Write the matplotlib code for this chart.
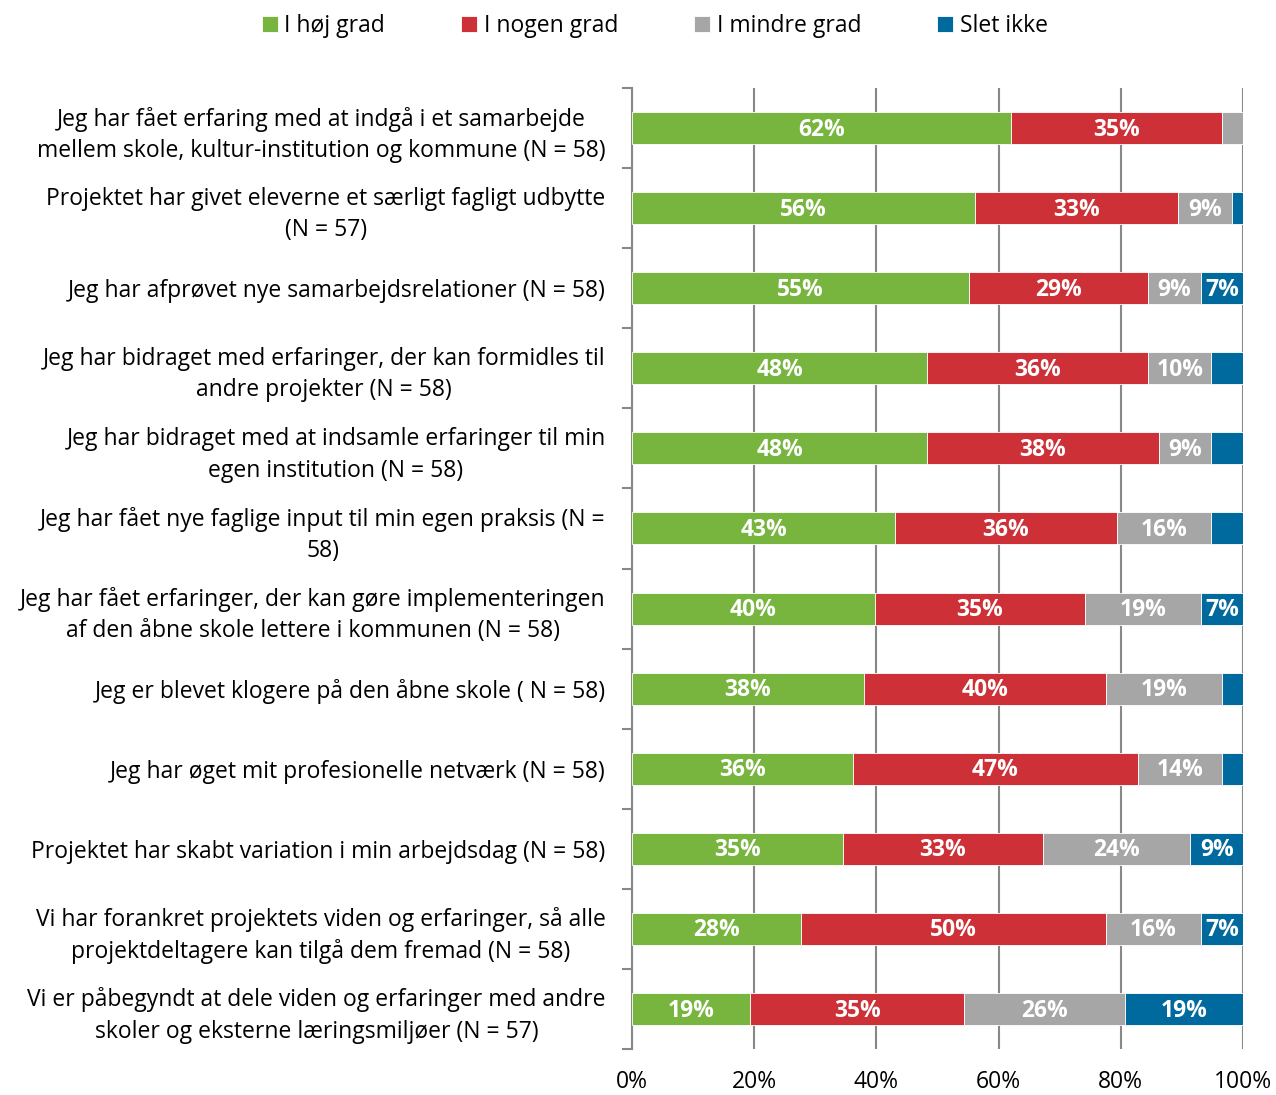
import matplotlib
matplotlib.use("Agg")
import matplotlib.pyplot as plt
import numpy as np
import math

categories = [
    "Jeg har fået erfaring med at indgå i et samarbejde\nmellem skole, kultur-institution og kommune (N = 58)",
    "Projektet har givet eleverne et særligt fagligt udbytte\n(N = 57)",
    "Jeg har afprøvet nye samarbejdsrelationer (N = 58)",
    "Jeg har bidraget med erfaringer, der kan formidles til\nandre projekter (N = 58)",
    "Jeg har bidraget med at indsamle erfaringer til min\negen institution (N = 58)",
    "Jeg har fået nye faglige input til min egen praksis (N =\n58)",
    "Jeg har fået erfaringer, der kan gøre implementeringen\naf den åbne skole lettere i kommunen (N = 58)",
    "Jeg er blevet klogere på den åbne skole ( N = 58)",
    "Jeg har øget mit profesionelle netværk (N = 58)",
    "Projektet har skabt variation i min arbejdsdag (N = 58)",
    "Vi har forankret projektets viden og erfaringer, så alle\nprojektdeltagere kan tilgå dem fremad (N = 58)",
    "Vi er påbegyndt at dele viden og erfaringer med andre\nskoler og eksterne læringsmiljøer (N = 57)",
]
series_names = ["I høj grad", "I nogen grad", "I mindre grad", "Slet ikke"]
hoej = [62.1, 56.1, 55.2, 48.3, 48.3, 43.1, 39.7, 37.9, 36.2, 34.5, 27.6, 19.3]
nogen = [34.5, 33.3, 29.3, 36.2, 37.9, 36.2, 34.5, 39.7, 46.6, 32.8, 50.0, 35.1]
mindre = [3.4, 8.8, 8.6, 10.3, 8.6, 15.5, 19.0, 19.0, 13.8, 24.1, 15.5, 26.3]
slet = [0.0, 1.8, 6.9, 5.2, 5.2, 5.2, 6.9, 3.4, 3.4, 8.6, 6.9, 19.3]
xtick_labels = ["0%", "20%", "40%", "60%", "80%", "100%"]

colors = ["#77B53F", "#CD3036", "#A6A6A6", "#006A9E"]

plt.rcParams["font.family"] = ["Open Sans", "DejaVu Sans"]

fig = plt.figure(figsize=(12.76, 10.95), dpi=100)
ax = fig.add_axes([632/1276, 1 - 1049/1095, (1243-632)/1276, (1049-88)/1095])

y = np.arange(len(categories))
left = np.zeros(len(categories))
for name, vals, col in zip(series_names, [hoej, nogen, mindre, slet], colors):
    vals = np.array(vals)
    ax.barh(y, vals, left=left, height=0.4, color=col, label=name,
            edgecolor="white", linewidth=0.6, zorder=3)
    for yi, l, v in zip(y, left, vals):
        if v >= 6:
            ax.text(l + v/2, yi + 0.02, f"{math.floor(v + 0.5)}%", ha="center", va="center",
                    color="white", fontsize=16.5, fontweight="bold", zorder=4)
    left += vals

ax.set_xlim(0, 100)
ax.set_ylim(len(categories) - 0.5, -0.5)
ax.set_xticks(np.arange(0, 101, 20))
ax.set_xticklabels(xtick_labels, fontsize=16.5)
ax.tick_params(axis="x", length=0, pad=15)
ax.set_yticks(y)
ax.set_yticklabels(categories, fontsize=16.5, linespacing=1.4)
ax.set_yticks(np.arange(-0.5, len(categories), 1), minor=True)
ax.tick_params(axis="y", which="major", length=0, pad=19)
ax.tick_params(axis="y", which="minor", length=7, color="#888888", width=1.5)
for lab in ax.get_yticklabels():
    lab.set_horizontalalignment("right")
    lab.set_multialignment("center")

ax.grid(axis="x", color="#888888", linewidth=1.5, zorder=0)
for s in ["top", "right", "bottom"]:
    ax.spines[s].set_visible(False)
ax.spines["left"].set_color("#888888")
ax.spines["left"].set_linewidth(1.5)

handles, labels = ax.get_legend_handles_labels()
fig.legend(handles, labels, loc="upper center", ncol=4, frameon=False,
           bbox_to_anchor=(0.513, 1.006), fontsize=16.5, handlelength=0.7,
           handleheight=0.7, handletextpad=0.3, columnspacing=3.3)

fig.savefig("out.png", dpi=100)
